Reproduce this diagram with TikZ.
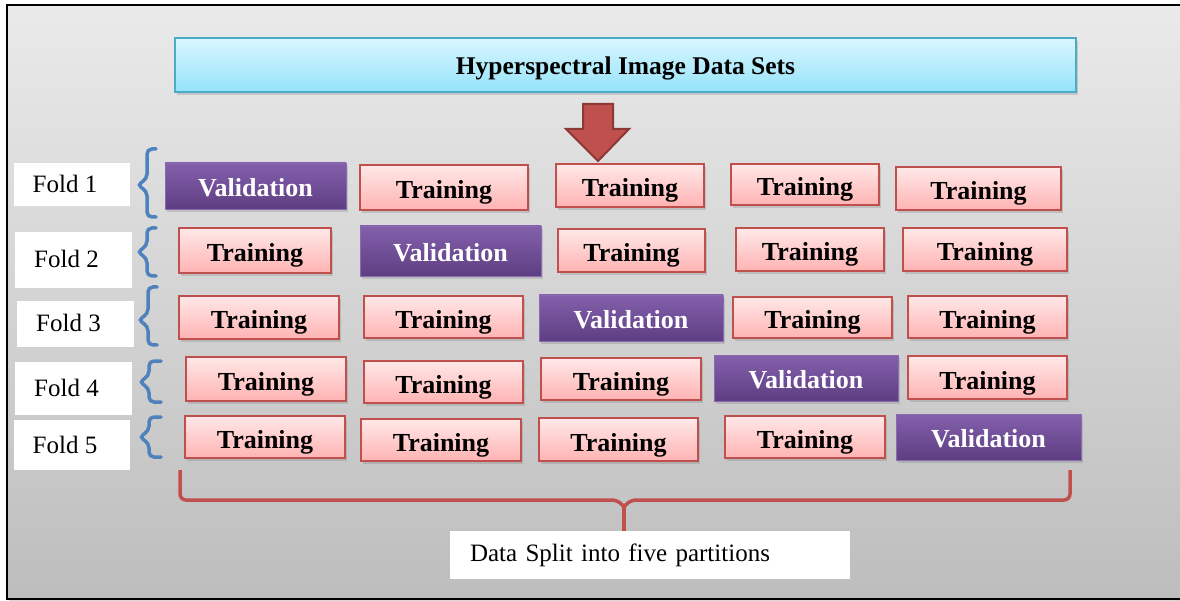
\documentclass[tikz,border=0pt]{standalone}
\usepackage{fontspec}
\setmainfont{Liberation Serif}
\usetikzlibrary{shadows,calc}
\definecolor{trainborder}{HTML}{C0504D}
\definecolor{traintop}{HTML}{FFE8E8}
\definecolor{trainbot}{HTML}{FFB3B3}
\definecolor{valborder}{HTML}{8A6AB0}
\definecolor{valtop}{HTML}{8460AC}
\definecolor{valbot}{HTML}{5E3E82}
\definecolor{headborder}{HTML}{4BACC6}
\definecolor{headtop}{HTML}{DAF6FE}
\definecolor{headbot}{HTML}{95E3FA}
\definecolor{bracebl}{HTML}{4F81BD}
\definecolor{arrowfill}{HTML}{C0504D}
\definecolor{arrowdraw}{HTML}{8C3836}
\definecolor{bgtop}{HTML}{EAEAEA}
\definecolor{bgbot}{HTML}{BDBDBD}
\begin{document}
\begin{tikzpicture}[x=1pt,y=-1pt,
  shade/.style={drop shadow={shadow xshift=2pt,shadow yshift=-3pt,opacity=0.3}},
  trainbox/.style={draw=trainborder,line width=1.5pt,top color=traintop,bottom color=trainbot,
    font=\fontsize{26}{28}\selectfont\bfseries,text height=23pt,text depth=0pt,inner sep=0pt,shade},
  valbox/.style={draw=valborder,line width=0.8pt,top color=valtop,bottom color=valbot,text=white,
    font=\fontsize{26}{28}\selectfont\bfseries,text height=21pt,text depth=0pt,inner sep=0pt,shade},
  headbox/.style={draw=headborder,line width=1.5pt,top color=headtop,bottom color=headbot,
    font=\fontsize{25.5}{28}\selectfont\bfseries,text height=19pt,text depth=0pt,inner sep=0pt,shade},
  foldbox/.style={fill=white,font=\fontsize{25}{28}\selectfont,inner sep=0pt,text height=16pt,text depth=0pt},
  bracestyle/.style={draw=bracebl,line width=3.5pt,rounded corners=5pt,line cap=round},
  redbrace/.style={draw=trainborder,line width=3.5pt,rounded corners=6pt},
  blockarrow/.style={fill=arrowfill,draw=arrowdraw,line width=2pt,line join=miter}
]
\useasboundingbox (0,0) rectangle (1180,601);
% background
\shade[top color=bgtop,bottom color=bgbot] (7,5) rectangle (1186,599);
\draw[black,line width=2pt] (7,5) rectangle (1186,599);

% header
\node[headbox,minimum width=901pt,minimum height=54pt] (head) at (625.5,65) {Hyperspectral Image Data Sets};

% block arrow
\coordinate (atop) at (598,104);
\draw[blockarrow] ($(atop)+(-15,0)$) -- ($(atop)+(15,0)$) -- ($(atop)+(15,25)$) -- ($(atop)+(31,25)$)
  -- ($(atop)+(0,57)$) -- ($(atop)+(-32,25)$) -- ($(atop)+(-15,25)$) -- cycle;

% fold labels
\node[foldbox,minimum width=116pt,minimum height=43pt] (f1) at (72,184.5) {Fold 1\kern14pt\null};
\node[foldbox,minimum width=117pt,minimum height=56pt] (f2) at (73.5,260) {Fold 2\kern14pt\null};
\node[foldbox,minimum width=117pt,minimum height=46pt] (f3) at (75.5,324) {Fold 3\kern14pt\null};
\node[foldbox,minimum width=117pt,minimum height=53pt] (f4) at (73.5,388.5) {Fold 4\kern14pt\null};
\node[foldbox,minimum width=116pt,minimum height=50pt] (f5) at (72,445) {Fold 5\kern14pt\null};

% fold braces
\draw[bracestyle] (156,149) -- (147,149) -- (147,179) -- (137,185) -- (147,191) -- (147,217) -- (156,217);
\draw[bracestyle] (156,228) -- (147,228) -- (147,246) -- (137,252) -- (147,258) -- (147,276) -- (156,276);
\draw[bracestyle] (157,287) -- (148,287) -- (148,314) -- (138,320) -- (148,326) -- (148,345) -- (157,345);
\draw[bracestyle] (161,361) -- (149,361) -- (149,376) -- (139,382) -- (149,388) -- (149,402) -- (161,402);
\draw[bracestyle] (161,417) -- (149,417) -- (149,431) -- (139,437) -- (149,443) -- (149,457) -- (161,457);

% row 1
\node[valbox,minimum width=181pt,minimum height=46pt] (r1c1) at (255.5,186) {Validation};
\node[trainbox,minimum width=168pt,minimum height=45pt] (r1c2) at (444,187.5) {Training};
\node[trainbox,minimum width=148pt,minimum height=43pt] (r1c3) at (630,185.5) {Training};
\node[trainbox,minimum width=148pt,minimum height=41pt] (r1c4) at (805,184.5) {Training};
\node[trainbox,minimum width=165pt,minimum height=43pt] (r1c5) at (978.5,188.5) {Training};
% row 2
\node[trainbox,minimum width=152pt,minimum height=45pt] (r2c1) at (255,250.5) {Training};
\node[valbox,minimum width=181pt,minimum height=50pt] (r2c2) at (450.5,251) {Validation};
\node[trainbox,minimum width=147pt,minimum height=43pt] (r2c3) at (631.5,250.5) {Training};
\node[trainbox,minimum width=148pt,minimum height=43pt] (r2c4) at (810,249.5) {Training};
\node[trainbox,minimum width=164pt,minimum height=43pt] (r2c5) at (985,249.5) {Training};
% row 3
\node[trainbox,minimum width=160pt,minimum height=43pt] (r3c1) at (259,317.5) {Training};
\node[trainbox,minimum width=159pt,minimum height=42pt] (r3c2) at (443.5,317) {Training};
\node[valbox,minimum width=184pt,minimum height=46pt] (r3c3) at (631,318) {Validation};
\node[trainbox,minimum width=159pt,minimum height=41pt] (r3c4) at (812.5,317.5) {Training};
\node[trainbox,minimum width=159pt,minimum height=42pt] (r3c5) at (987.5,317) {Training};
% row 4
\node[trainbox,minimum width=160pt,minimum height=44pt] (r4c1) at (266,379) {Training};
\node[trainbox,minimum width=159pt,minimum height=42pt] (r4c2) at (443.5,382) {Training};
\node[trainbox,minimum width=160pt,minimum height=42pt] (r4c3) at (621,379) {Training};
\node[valbox,minimum width=184pt,minimum height=46pt] (r4c4) at (806,378) {Validation};
\node[trainbox,minimum width=159pt,minimum height=43pt] (r4c5) at (987.5,377.5) {Training};
% row 5
\node[trainbox,minimum width=160pt,minimum height=42pt] (r5c1) at (265,437) {Training};
\node[trainbox,minimum width=160pt,minimum height=42pt] (r5c2) at (441,440) {Training};
\node[trainbox,minimum width=159pt,minimum height=43pt] (r5c3) at (618.5,439.5) {Training};
\node[trainbox,minimum width=160pt,minimum height=42pt] (r5c4) at (805,437) {Training};
\node[valbox,minimum width=185pt,minimum height=46pt] (r5c5) at (988.5,437) {Validation};

% bottom label
\node[fill=white,minimum width=400pt,minimum height=48pt,text width=360pt,inner xsep=20pt,inner ysep=0pt,
  align=left,font=\fontsize{25}{28}\selectfont] (data) at (650,555) {Data Split into five partitions};

% bottom brace
\coordinate (btip) at (624,507);
\draw[redbrace] (180,470) -- (180,500) -- (618,500) -- (btip);
\draw[redbrace] (1070,470) -- (1070,500) -- (630,500) -- (btip);
\draw[draw=trainborder,line width=3.5pt] ($(btip)+(0,-2)$) -- (btip |- data.north);
\end{tikzpicture}
\end{document}
